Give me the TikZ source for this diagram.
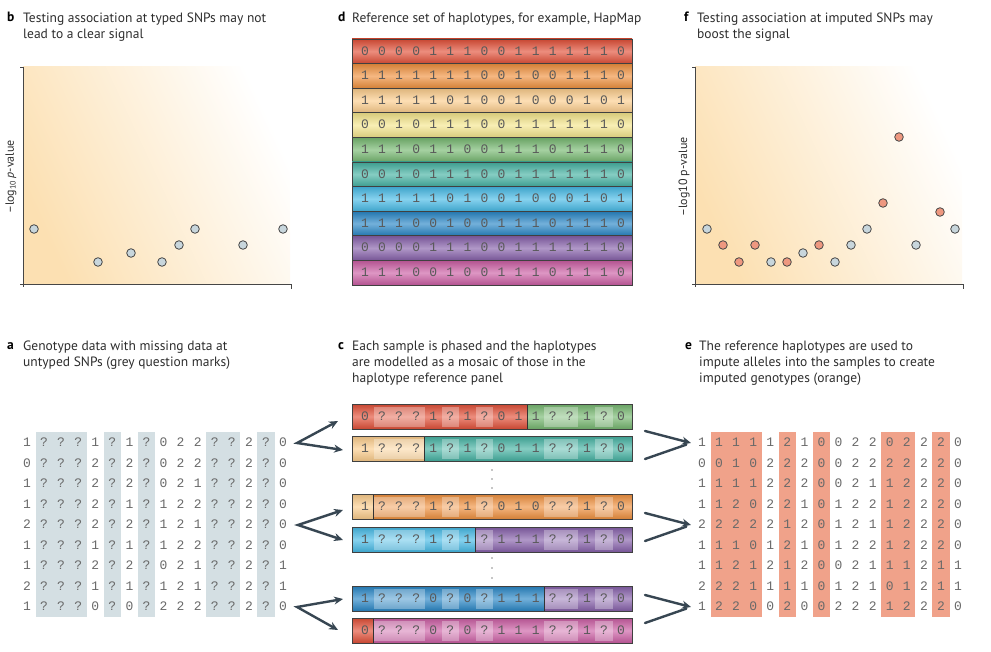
\documentclass[tikz,border=0pt]{standalone}
\usepackage{fontspec}
\setmainfont{PT Sans}
\setmonofont{Liberation Mono}
\usetikzlibrary{arrows.meta,calc}

\definecolor{titlegray}{RGB}{45,45,45}
\definecolor{digitgray}{RGB}{105,105,105}
\definecolor{axisgray}{RGB}{70,70,70}
\definecolor{plotorange}{RGB}{252,224,178}
\definecolor{typedfill}{RGB}{200,214,220}
\definecolor{imputfill}{RGB}{238,152,128}
\definecolor{maskband}{RGB}{212,223,227}
\definecolor{fillband}{RGB}{240,162,138}
\definecolor{arrowgray}{RGB}{55,70,82}
\definecolor{hapred}{RGB}{226,80,56}
\definecolor{haporange}{RGB}{240,145,62}
\definecolor{haplight}{RGB}{252,205,140}
\definecolor{hapyellow}{RGB}{245,230,140}
\definecolor{hapgreen}{RGB}{118,184,112}
\definecolor{hapteal}{RGB}{68,178,162}
\definecolor{hapsky}{RGB}{70,186,230}
\definecolor{hapblue}{RGB}{40,134,198}
\definecolor{hapviolet}{RGB}{134,96,170}
\definecolor{happink}{RGB}{204,94,164}

\tikzset{
  letter/.style={anchor=base west, inner sep=0pt, font=\fontsize{13.5}{16}\selectfont\bfseries},
  title/.style={anchor=north west, inner sep=0pt, align=left, text=titlegray, font=\fontsize{13.5}{16}\selectfont},
  ylab/.style={rotate=90, inner sep=0pt, text=titlegray, font=\fontsize{12}{13}\selectfont},
  digit/.style={inner sep=0pt, text height=7.8pt, text depth=0pt, text=digitgray, font=\fontsize{13}{14}\selectfont\ttfamily},
  axis/.style={draw=axisgray, line width=0.8pt},
  plotbg/.style={top color=white, bottom color=plotorange, shading angle=-65},
  typed/.style={fill=typedfill, draw=axisgray, line width=0.8pt},
  imput/.style={fill=imputfill, draw=axisgray, line width=0.8pt},
  barline/.style={draw=black!75, line width=0.8pt},
  fan/.style={draw=arrowgray, line width=2.4pt, line cap=round},
  fantip/.tip={Stealth[length=9pt, width=8pt]}
}

\begin{document}
\begin{tikzpicture}[x=1pt,y=-1pt]
\useasboundingbox (0,0) rectangle (991,652);

% panel b: typed SNPs
\node[letter] (lb) at (7,22) {b};
\node[title] (tb) at (23,12.3) {Testing association at typed SNPs may not\\lead to a clear signal};
\shade[plotbg] (23,67) rectangle (290,284);
\draw[axis] (20,67) -- (23,67) -- (23,287);
\draw[axis] (20,284) -- (291,284) -- (291,289);
\node[ylab] (yb) at (11,177) {–log\textsubscript{10}\,\textit{p}-value};
\foreach \px/\py in {34/229, 98/262, 131/253, 162/262, 179/245, 195/229, 243/245, 283/229}
  \filldraw[typed] (\px,\py) circle (4.3pt);

% panel f: imputed SNPs
\node[letter] (lf) at (684,22) {f};
\node[title] (tf) at (697,12.3) {Testing association at imputed SNPs may\\boost the signal};
\shade[plotbg] (695,67) rectangle (962,284);
\draw[axis] (692,67) -- (695,67) -- (695,287);
\draw[axis] (692,284) -- (963,284) -- (963,289);
\node[ylab] (yf) at (684,177) {–log10 p-value};
\foreach \px/\py in {707/229, 771/262, 803/253, 835/262, 851/245, 867/229, 916/245, 955/229}
  \filldraw[typed] (\px,\py) circle (4.3pt);
\foreach \px/\py in {723/245, 739/262, 755/245, 787/262, 819/245, 883/203, 899/137, 940/212}
  \filldraw[imput] (\px,\py) circle (4.3pt);

% panel d: reference haplotypes
\node[letter] (ld) at (338,22) {d};
\node[title] (td) at (352,12.3) {Reference set of haplotypes, for example, HapMap};
\foreach \c [count=\k] in {hapred,haporange,haplight,hapyellow,hapgreen,hapteal,hapsky,hapblue,hapviolet,happink} {
  \shade[top color=\c!88!black, bottom color=\c!88!black, middle color=\c!65!white]
    (352,{39+24.6*(\k-1)}) rectangle (632,{39+24.6*\k});
  \draw[barline] (352,{39+24.6*(\k-1)}) rectangle (632,{39+24.6*\k});
}
\foreach \bits [count=\k] in {
  {0,0,0,0,1,1,1,0,0,1,1,1,1,1,1,0},
  {1,1,1,1,1,1,1,0,0,1,0,0,1,1,1,0},
  {1,1,1,1,1,0,1,0,0,1,0,0,0,1,0,1},
  {0,0,1,0,1,1,1,0,0,1,1,1,1,1,1,0},
  {1,1,1,0,1,1,0,0,1,1,1,0,1,1,1,0},
  {0,0,1,0,1,1,1,0,0,1,1,1,1,1,1,0},
  {1,1,1,1,1,0,1,0,0,1,0,0,0,1,0,1},
  {1,1,1,0,0,1,0,0,1,1,1,0,1,1,1,0},
  {0,0,0,0,1,1,1,0,0,1,1,1,1,1,1,0},
  {1,1,1,0,0,1,0,0,1,1,1,0,1,1,1,0}}
  \foreach \d [count=\j] in \bits
    \node[digit, text=black!65] (d\k-\j) at ({365+17.07*(\j-1)},{51.3+24.6*(\k-1)}) {\d};

% panel a: genotypes with untyped SNPs
\node[letter] (la) at (7,350) {a};
\node[title] (ta) at (23,340.3) {Genotype data with missing data at\\untyped SNPs (grey question marks)};
% panel e: imputed genotypes
\node[letter] (le) at (685,350) {e};
\node[title] (te) at (699,340.3) {The reference haplotypes are used to\\impute alleles into the samples to create\\imputed genotypes (orange)};
\foreach \a/\b in {2/4, 6/6, 8/8, 12/13, 15/15} {
  \fill[maskband] ({27+17.07*(\a-1.5)},432) rectangle ({27+17.07*(\b-0.5)},617);
  \fill[fillband] ({702+17.07*(\a-1.5)},432) rectangle ({702+17.07*(\b-0.5)},617);
}
\foreach \bits [count=\i] in {
  {1,?,?,?,1,?,1,?,0,2,2,?,?,2,?,0},
  {0,?,?,?,2,?,2,?,0,2,2,?,?,2,?,0},
  {1,?,?,?,2,?,2,?,0,2,1,?,?,2,?,0},
  {1,?,?,?,2,?,1,?,1,2,2,?,?,2,?,0},
  {2,?,?,?,2,?,2,?,1,2,1,?,?,2,?,0},
  {1,?,?,?,1,?,1,?,1,2,2,?,?,2,?,0},
  {1,?,?,?,2,?,2,?,0,2,1,?,?,2,?,1},
  {2,?,?,?,1,?,1,?,1,2,1,?,?,2,?,1},
  {1,?,?,?,0,?,0,?,2,2,2,?,?,2,?,0}}
  \foreach \d [count=\j] in \bits
    \node[digit] (a\i-\j) at ({27+17.07*(\j-1)},{443+20.5*(\i-1)}) {\d};
\foreach \bits [count=\i] in {
  {1,1,1,1,1,2,1,0,0,2,2,0,2,2,2,0},
  {0,0,1,0,2,2,2,0,0,2,2,2,2,2,2,0},
  {1,1,1,1,2,2,2,0,0,2,1,1,2,2,2,0},
  {1,1,2,0,2,2,1,0,1,2,2,1,2,2,2,0},
  {2,2,2,2,2,1,2,0,1,2,1,1,2,2,2,0},
  {1,1,1,0,1,2,1,0,1,2,2,1,2,2,2,0},
  {1,1,2,1,2,1,2,0,0,2,1,1,1,2,1,1},
  {2,2,2,1,1,1,1,0,1,2,1,0,1,2,1,1},
  {1,2,2,0,0,2,0,0,2,2,2,1,2,2,2,0}}
  \foreach \d [count=\j] in \bits
    \node[digit] (e\i-\j) at ({702+17.07*(\j-1)},{443+20.5*(\i-1)}) {\d};

% panel c: phased mosaics
\node[letter] (lc) at (338,350) {c};
\node[title] (tc) at (352,340.3) {Each sample is phased and the haplotypes\\are modelled as a mosaic of those in the\\haplotype reference panel};
\foreach \y/\cl/\cr/\s in {404/hapred/hapgreen/10, 436/haplight/hapteal/4, 494/haplight/haporange/1,
                          527/hapsky/hapviolet/7, 586/hapblue/hapviolet/11, 618/hapred/happink/1} {
  \shade[top color=\cl!88!black, bottom color=\cl!88!black, middle color=\cl!65!white]
    (352,\y) rectangle ({365+17.07*(\s-0.5)},\y+25);
  \shade[top color=\cr!88!black, bottom color=\cr!88!black, middle color=\cr!65!white]
    ({365+17.07*(\s-0.5)},\y) rectangle (632,\y+25);
  \foreach \a/\b in {2/4, 6/6, 8/8, 12/13, 15/15}
    \fill[white, opacity=0.3] ({365+17.07*(\a-1.5)},\y+2.5) rectangle ({365+17.07*(\b-0.5)},\y+22.5);
  \draw[black!80, line width=1pt] ({365+17.07*(\s-0.5)},\y) -- ({365+17.07*(\s-0.5)},\y+25);
  \draw[barline] (352,\y) rectangle (632,\y+25);
}
\foreach \bits [count=\k] in {
  {0,?,?,?,1,?,1,?,0,1,1,?,?,1,?,0},
  {1,?,?,?,1,?,1,?,0,1,1,?,?,1,?,0},
  {1,?,?,?,1,?,1,?,0,1,0,?,?,1,?,0},
  {1,?,?,?,1,?,1,?,1,1,1,?,?,1,?,0},
  {1,?,?,?,0,?,0,?,1,1,1,?,?,1,?,0},
  {0,?,?,?,0,?,0,?,1,1,1,?,?,1,?,0}} {
  \pgfmathsetmacro{\yc}{{416.5,448.5,506.5,539.5,598.5,630.5}[\k-1]}
  \foreach \d [count=\j] in \bits
    \node[digit, text=black!65] (c\k-\j) at ({365+17.07*(\j-1)},\yc) {\d};
}
\foreach \y in {470,479,488,558,568,578}
  \fill[black!45] (492,\y) circle (0.8pt);

% arrows a -> c
\coordinate (ra1) at (297,443);
\coordinate (ra5) at (298,525);
\coordinate (ra9) at (297,607);
\coordinate (hc1) at (338,421);
\coordinate (hc2) at (343,450);
\coordinate (hc3) at (343,510);
\coordinate (hc4) at (343,540);
\coordinate (hc5) at (343,599);
\coordinate (hc6) at (338,630);
\draw[fan, fantip-fantip] (hc1) -- (ra1) -- (hc2);
\draw[fan, fantip-fantip] (hc3) -- (ra5) -- (hc4);
\draw[fan, fantip-fantip] (hc5) -- (ra9) -- (hc6);

% arrows c -> e
\foreach \r/\yt in {1/443, 5/525, 9/607} {
  \coordinate (ce\r) at (691,\yt);
  \coordinate (cu\r) at (645,\yt-12);
  \coordinate (cl\r) at (645,\yt+16);
  \draw[fan, -fantip] (cu\r) -- (ce\r);
  \draw[fan] (cl\r) -- ($(ce\r)!5pt!(cl\r)$);
}
\end{tikzpicture}
\end{document}
